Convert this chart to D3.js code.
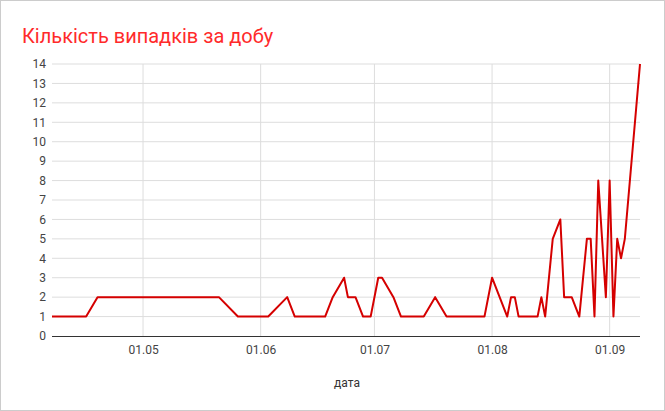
<!DOCTYPE html>
<html><head><meta charset="utf-8">
<script src="https://cdn.jsdelivr.net/npm/d3@7"></script>
<style>body{margin:0;background:#fff}text{font-family:Roboto,Arial,sans-serif}</style>
</head><body><svg id="c" width="665" height="411"></svg>
<script>
var dates = ["2020-04-07","2020-04-16","2020-04-19","2020-05-21","2020-05-26","2020-06-03","2020-06-08","2020-06-10","2020-06-18","2020-06-20","2020-06-23","2020-06-24","2020-06-26","2020-06-28","2020-06-30","2020-07-02","2020-07-03","2020-07-06","2020-07-08","2020-07-14","2020-07-17","2020-07-20","2020-07-30","2020-08-01","2020-08-05","2020-08-06","2020-08-07","2020-08-08","2020-08-13","2020-08-14","2020-08-15","2020-08-17","2020-08-19","2020-08-20","2020-08-22","2020-08-24","2020-08-26","2020-08-27","2020-08-28","2020-08-29","2020-08-31","2020-09-01","2020-09-02","2020-09-03","2020-09-04","2020-09-05","2020-09-09"];
var cases = [1,1,2,2,1,1,2,1,1,2,3,2,2,1,1,3,3,2,1,1,2,1,1,3,1,2,2,1,1,2,1,5,6,2,2,1,5,5,1,8,2,8,1,5,4,5,14];
var yTicks = d3.range(0, 15);
var xTicks = ["2020-05-01","2020-06-01","2020-07-01","2020-08-01","2020-09-01"];

var parse = d3.timeParse("%Y-%m-%d");
var data = dates.map(function (d, i) { return {date: parse(d), v: cases[i]}; });
var svg = d3.select("#c");
svg.append("rect").attr("x", 0.5).attr("y", 0.5).attr("width", 664).attr("height", 410)
    .attr("fill", "#fff").attr("stroke", "#ccc");

var x = d3.scaleTime().domain([data[0].date, data[data.length - 1].date]).range([52, 640]);
var y = d3.scaleLinear().domain([0, 14]).range([336, 64]);

svg.append("g").selectAll("line").data(yTicks.slice(1)).enter().append("line")
    .attr("x1", 52).attr("x2", 640).attr("y1", y).attr("y2", y).attr("stroke", "#ddd");
svg.append("g").selectAll("line").data(xTicks).enter().append("line")
    .attr("x1", function (d) { return x(parse(d)); }).attr("x2", function (d) { return x(parse(d)); })
    .attr("y1", 64).attr("y2", 336).attr("stroke", "#ddd");

svg.append("g").attr("transform", "translate(52,0)")
    .call(d3.axisLeft(y).tickValues(yTicks).tickSize(0).tickPadding(6))
    .call(function (g) { g.select(".domain").remove(); })
    .selectAll("text").attr("fill", "#444").attr("font-size", 12);
svg.append("g").attr("transform", "translate(0,336)")
    .call(d3.axisBottom(x).tickValues(xTicks.map(parse)).tickFormat(d3.timeFormat("%d.%m")).tickSize(0).tickPadding(9))
    .call(function (g) { g.select(".domain").remove(); })
    .selectAll("text").attr("fill", "#444").attr("font-size", 12);
svg.append("line").attr("x1", 52).attr("x2", 640).attr("y1", 336.5).attr("y2", 336.5).attr("stroke", "#333");

svg.append("path").datum(data)
    .attr("d", d3.line().x(function (d) { return x(d.date); }).y(function (d) { return y(d.v); }))
    .attr("fill", "none").attr("stroke", "#d50000").attr("stroke-width", 2).attr("stroke-linejoin", "round");

svg.append("text").attr("x", 22).attr("y", 43).attr("fill", "#ff2a2a").attr("font-size", 20)
    .text("Кількість випадків за добу");
svg.append("text").attr("x", 347).attr("y", 387).attr("text-anchor", "middle")
    .attr("fill", "#333").attr("font-size", 12).text("дата");
</script></body></html>
